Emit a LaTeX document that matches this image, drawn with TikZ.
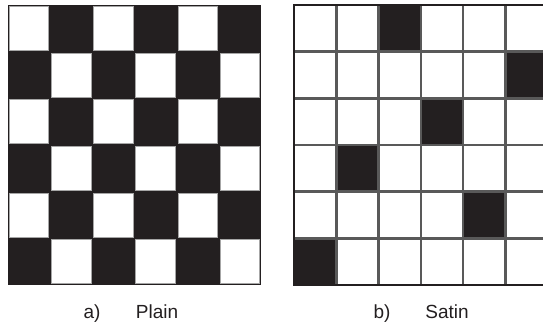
\documentclass[tikz,border=0pt]{standalone}
\usepackage{fontspec}
\setmainfont{Liberation Sans}
\usepackage{xcolor}
\definecolor{yarn}{HTML}{231F20}
\tikzset{
  cap label/.style={font=\fontsize{19}{21}\selectfont, text=yarn, inner sep=0pt, anchor=base},
  satin line/.style={draw=black!65, line width=2.4pt},
}

\begin{document}
\begin{tikzpicture}[x=1pt, y=-1pt]
        \clip (0,0) rectangle (543,324);
        \fill[white] (0,0) rectangle (543,324);
        % plain weave
        \fill[yarn] (8,5) rectangle (261,285);
        \foreach \r in {0,...,5}
          \foreach \c in {0,...,5} {
            \pgfmathparse{int(mod(\r+\c,2))}
            \ifnum\pgfmathresult=0
              \filldraw[fill=white, draw=gray!70, line width=0.8pt]
                ({8+\c*42.17+1.3},{5+\r*46.67+1.3}) rectangle ({8+(\c+1)*42.17-1.3},{5+(\r+1)*46.67-1.3});
            \fi
          }
        % satin weave
        \foreach \r/\c in {0/2, 1/5, 2/3, 3/1, 4/4, 5/0}
          \fill[yarn] ({294+\c*42.3},{5+\r*46.67}) rectangle ({294+(\c+1)*42.3},{5+(\r+1)*46.67});
        \foreach \i in {1,...,5} {
          \draw[satin line] ({294+\i*42.3},5) -- ({294+\i*42.3},285);
          \draw[satin line] (294,{5+\i*46.67}) -- (548,{5+\i*46.67});
        }
        \draw[yarn, line width=2.4pt] (294,5) rectangle (547.8,285);
        \node[cap label] (pa) at (92,318) {a)};
        \node[cap label] (pn) at (157,318) {Plain};
        \node[cap label] (sb) at (382,318) {b)};
        \node[cap label] (sn) at (447,318) {Satin};
      \end{tikzpicture}
\end{document}
